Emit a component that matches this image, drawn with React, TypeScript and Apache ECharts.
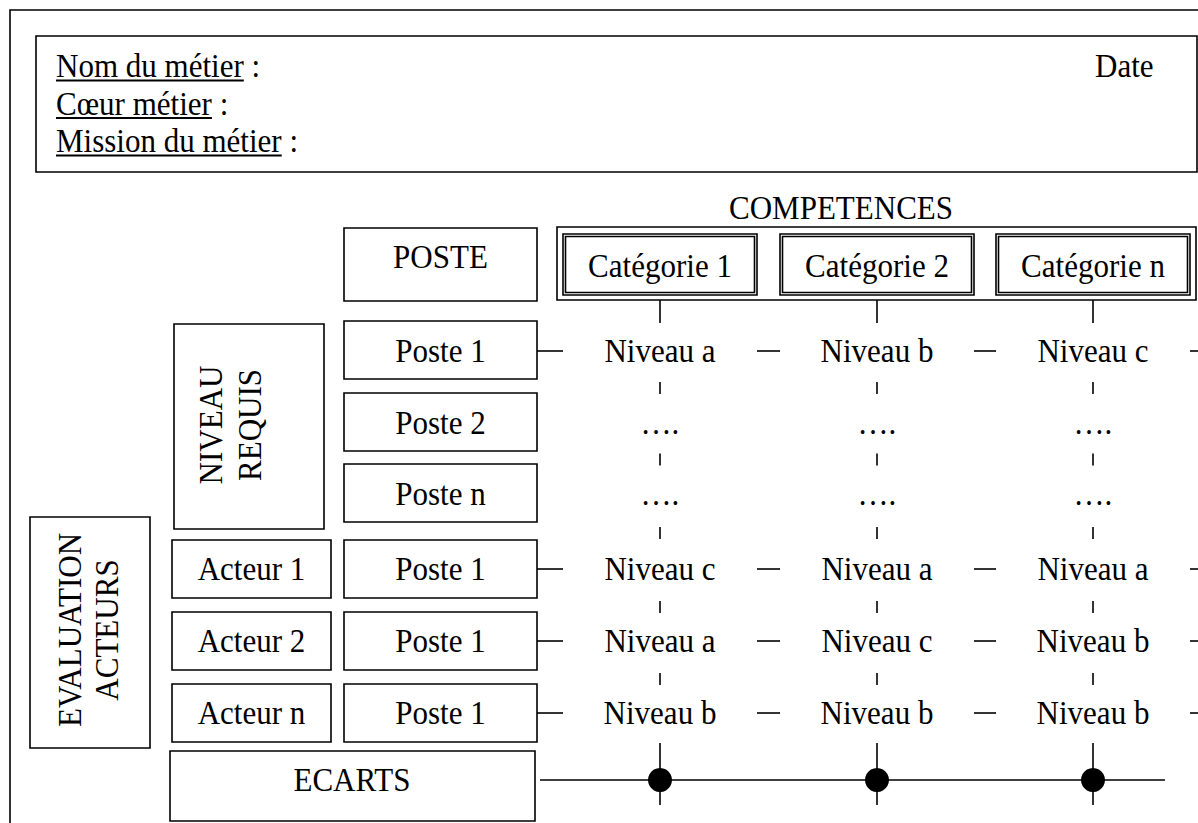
import React, { useEffect, useRef } from "react";
import * as echarts from "echarts";

// ---- data (texts of the diagram) ----
const headerFields = ["Nom du métier", "Cœur métier", "Mission du métier"];
const dateLabel = "Date";
const competencesTitle = "COMPETENCES";
const posteTitle = "POSTE";
const categories = ["Catégorie 1", "Catégorie 2", "Catégorie n"];
const requiredPosts = ["Poste 1", "Poste 2", "Poste n"];
const requiredLevels = [
  ["Niveau a", "Niveau b", "Niveau c"],
  ["….", "….", "…."],
  ["….", "….", "…."],
];
const actors = ["Acteur 1", "Acteur 2", "Acteur n"];
const actorPosts = ["Poste 1", "Poste 1", "Poste 1"];
const actorLevels = [
  ["Niveau c", "Niveau a", "Niveau a"],
  ["Niveau a", "Niveau c", "Niveau b"],
  ["Niveau b", "Niveau b", "Niveau b"],
];
const requiredTitle = ["NIVEAU", "REQUIS"];
const evaluationTitle = ["EVALUATION", "ACTEURS"];
const ecartsLabel = "ECARTS";

// ---- layout ----
const FONT = '"Liberation Serif", "Times New Roman", Times, serif';
const FS = 33;
const SX = 0.94;
const LW = 1.6;
const catLeft = [563, 780, 996];
const catW = 194;
const rowTops = [321, 393, 464, 540, 612, 684];
const rowH = 58;

export default function App() {
  const ref = useRef<HTMLDivElement>(null);

  useEffect(() => {
    document.body.style.margin = "0";
    const chart = echarts.init(ref.current!, null, { renderer: "svg" });
    const ctx = document.createElement("canvas").getContext("2d")!;
    ctx.font = `${FS}px "Liberation Serif"`;
    const measure = (s: string) => ctx.measureText(s).width * SX;

    const g: any[] = [];
    const rect = (x: number, y: number, w: number, h: number) =>
      g.push({
        type: "rect",
        silent: true,
        shape: { x, y, width: w, height: h },
        style: { fill: "none", stroke: "#000", lineWidth: LW },
      });
    const line = (x1: number, y1: number, x2: number, y2: number, lw = LW) =>
      g.push({
        type: "line",
        silent: true,
        shape: { x1, y1, x2, y2 },
        style: { stroke: "#000", lineWidth: lw },
      });
    const text = (x: number, y: number, t: string, align = "center", rotation = 0) =>
      g.push({
        type: "text",
        silent: true,
        x,
        y,
        rotation,
        scaleX: SX,
        style: {
          text: t,
          x: 0,
          y: 0,
          fontSize: FS,
          fontFamily: FONT,
          fill: "#000",
          align,
          verticalAlign: "middle",
        },
      });

    // outer frame (runs off the page)
    rect(10, 10, 1300, 900);

    // header
    rect(36, 36, 1161, 136);
    const baselines = [77, 114.5, 152];
    headerFields.forEach((f, i) => {
      const cy = baselines[i] - 11;
      text(56, cy, f, "left");
      const w = measure(f);
      line(56, baselines[i] + 3.5, 56 + w, baselines[i] + 3.5, 1.8);
      text(56 + w, cy, " :", "left");
    });
    text(1095, 66, dateLabel, "left");

    // POSTE header
    rect(344, 228, 193, 73);
    text(440.5, 257, posteTitle);

    // competences
    text(841, 207.5, competencesTitle);
    rect(557, 227, 639, 73);
    const catX = catLeft.map((l) => l + catW / 2);
    categories.forEach((c, i) => {
      rect(catLeft[i], 234, catW, 61);
      rect(catLeft[i] + 2.5, 236.5, catW - 5, 56);
      text(catX[i], 266, c);
      line(catX[i], 300, catX[i], 323);
    });

    const rowC = rowTops.map((t) => t + rowH / 2);
    // gap edges for horizontal dashes
    const gaps: [number, number][] = [[537, catLeft[0]]];
    for (let i = 0; i < catLeft.length - 1; i++) gaps.push([catLeft[i] + catW, catLeft[i + 1]]);
    gaps.push([catLeft[catLeft.length - 1] + catW, 1198]);

    const drawLevels = (levels: string[], cy: number) => {
      const hasDash = levels.some((l) => l !== "….");
      levels.forEach((l, j) => text(catX[j], cy + 1, l));
      if (hasDash) gaps.forEach(([a, b]) => line(a, cy + 1, b, cy + 1));
    };

    // niveau requis
    rect(174, 324, 150, 205);
    text(211, 425, requiredTitle[0], "center", Math.PI / 2);
    text(250, 425, requiredTitle[1], "center", Math.PI / 2);
    requiredPosts.forEach((p, i) => {
      rect(344, rowTops[i], 193, rowH);
      text(440.5, rowC[i] + 1, p);
      drawLevels(requiredLevels[i], rowC[i]);
    });

    // evaluation acteurs
    rect(30, 517, 120, 231);
    text(70, 630, evaluationTitle[0], "center", Math.PI / 2);
    text(106.5, 630, evaluationTitle[1], "center", Math.PI / 2);
    actors.forEach((a, i) => {
      const r = i + 3;
      rect(172, rowTops[r], 159, rowH);
      text(251.5, rowC[r], a);
      rect(344, rowTops[r], 193, rowH);
      text(440.5, rowC[r], actorPosts[i]);
      drawLevels(actorLevels[i], rowC[r] - 1);
    });

    // vertical ticks between rows
    for (let i = 0; i < rowC.length - 1; i++) {
      const m = (rowC[i] + rowC[i + 1]) / 2 + 2;
      catX.forEach((x) => line(x, m - 6, x, m + 6));
    }

    // ecarts
    rect(170, 751, 365, 70);
    text(352, 780, ecartsLabel);
    line(540, 780, 1165, 780);
    catX.forEach((x) => {
      line(x, 743, x, 805);
      g.push({
        type: "circle",
        silent: true,
        shape: { cx: x, cy: 780, r: 12 },
        style: { fill: "#000" },
      });
    });

    chart.setOption({ animation: false, graphic: { elements: g } });
    return () => chart.dispose();
  }, []);

  return <div ref={ref} style={{ width: 1198, height: 823, background: "#fff" }} />;
}
